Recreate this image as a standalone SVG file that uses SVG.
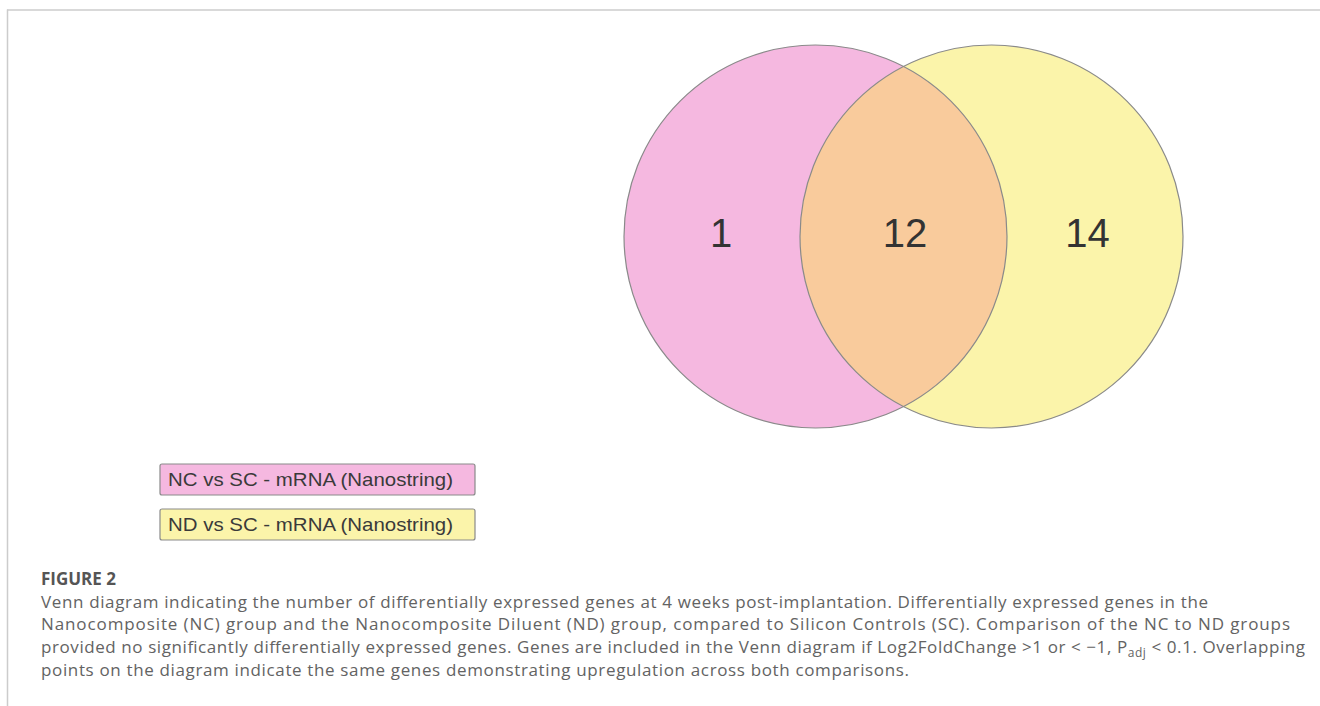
<svg xmlns="http://www.w3.org/2000/svg" width="1320" height="706" viewBox="0 0 1320 706">
<style>
.frame{stroke:#cccccc;stroke-width:1.5;fill:none}
.venn{stroke:#8a8a8a;stroke-width:1.2}
.num{font-family:"Liberation Sans",Arial,sans-serif;font-size:40px;fill:#333333;text-anchor:middle}
.leg{stroke:#8a8a8a;stroke-width:1.2}
.legt{font-family:"Liberation Sans",Arial,sans-serif;font-size:19px;fill:#3a3a3a}
.cap{font-family:"Open Sans","Noto Sans",sans-serif;font-size:17px;fill:#636363}
.capb{font-family:"Open Sans","Noto Sans",sans-serif;font-size:17px;font-weight:bold;fill:#555555}
</style>
<defs>
<clipPath id="clipL"><circle cx="815.5" cy="236.5" r="191.5"/></clipPath>
</defs>
<g id="frame">
<line class="frame" x1="7" y1="10" x2="1320" y2="10"/>
<line class="frame" x1="7.5" y1="9.5" x2="7.5" y2="706"/>
</g>
<g id="venn">
<circle cx="815.5" cy="236.5" r="191.5" fill="#f5b8e0"/>
<circle cx="991.5" cy="236.5" r="191.5" fill="#fbf4aa"/>
<circle cx="991.5" cy="236.5" r="191.5" fill="#f9cb9c" clip-path="url(#clipL)"/>
<circle class="venn" cx="815.5" cy="236.5" r="191.5" fill="none"/>
<circle class="venn" cx="991.5" cy="236.5" r="191.5" fill="none"/>
</g>
<g id="labels">
<text class="num" x="721" y="247">1</text>
<text class="num" x="905" y="247">12</text>
<text class="num" x="1087.5" y="247">14</text>
</g>
<g id="legend-nc">
<rect class="leg" x="160" y="464" width="315" height="31" rx="2" fill="#f5b8e0"/>
<text class="legt" x="168" y="486" textLength="285" lengthAdjust="spacingAndGlyphs">NC vs SC - mRNA (Nanostring)</text>
</g>
<g id="legend-nd">
<rect class="leg" x="160" y="509" width="315" height="31" rx="2" fill="#fbf4aa"/>
<text class="legt" x="168" y="531" textLength="285" lengthAdjust="spacingAndGlyphs">ND vs SC - mRNA (Nanostring)</text>
</g>
<g id="caption">
<text class="capb" x="41" y="585">FIGURE 2</text>
<text class="cap" x="41" y="607.5" textLength="1167">Venn diagram indicating the number of differentially expressed genes at 4 weeks post-implantation. Differentially expressed genes in the</text>
<text class="cap" x="41" y="630" textLength="1249">Nanocomposite (NC) group and the Nanocomposite Diluent (ND) group, compared to Silicon Controls (SC). Comparison of the NC to ND groups</text>
<text class="cap" x="41" y="653" textLength="1264">provided no significantly differentially expressed genes. Genes are included in the Venn diagram if Log2FoldChange &gt;1 or &lt; −1, P<tspan font-size="12px" dy="4">adj</tspan><tspan dy="-4"> &lt; 0.1. Overlapping</tspan></text>
<text class="cap" x="41" y="676" textLength="868">points on the diagram indicate the same genes demonstrating upregulation across both comparisons.</text>
</g>
</svg>
